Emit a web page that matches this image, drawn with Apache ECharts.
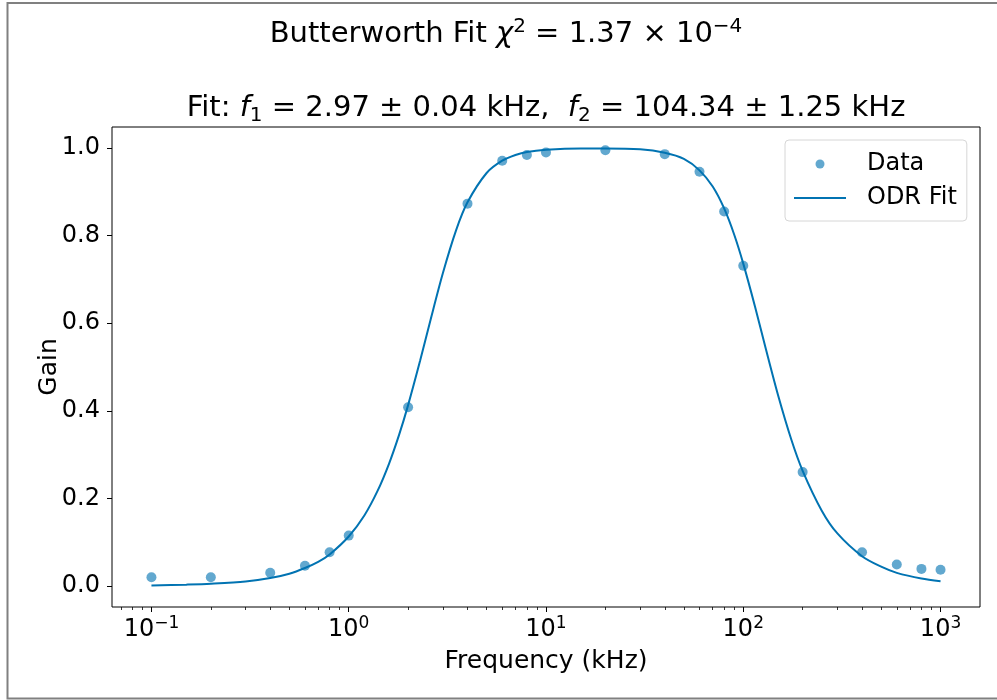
<!DOCTYPE html>
<html>
<head>
<meta charset="utf-8">
<script src="https://cdn.jsdelivr.net/npm/echarts@6/dist/echarts.min.js"></script>
<style>
  html, body { margin: 0; padding: 0; background: #fff; }
  #chart { width: 997px; height: 700px; }
</style>
</head>
<body>
<div id="chart"></div>
<script>
// measured points (kHz, gain)
const freqData = [0.1, 0.2, 0.4, 0.6, 0.8, 1, 2, 4, 6, 8, 10, 20, 40, 60, 80, 100, 200, 400, 600, 800, 1000];
const gainData = [0.020, 0.020, 0.030, 0.046, 0.077, 0.115, 0.408, 0.873, 0.971, 0.984, 0.990, 0.995, 0.986, 0.946, 0.855, 0.731, 0.260, 0.077, 0.049, 0.039, 0.037];

// fitted curve
const fitFreq = [0.1, 0.15, 0.2, 0.3, 0.4, 0.5, 0.6, 0.7, 0.8, 1, 1.2, 1.4, 1.6, 1.8, 2, 2.3, 2.6, 3, 3.5, 4, 5, 6, 7, 8, 10, 15, 20, 30, 40, 50, 60, 70, 80, 90, 100, 115, 130, 150, 175, 200, 250, 300, 400, 500, 600, 800, 1000];
const fitGain = [0.001, 0.003, 0.005, 0.010, 0.018, 0.028, 0.041, 0.055, 0.072, 0.113, 0.161, 0.217, 0.279, 0.345, 0.413, 0.514, 0.608, 0.714, 0.812, 0.876, 0.943, 0.971, 0.984, 0.991, 0.996, 0.999, 0.999, 0.997, 0.989, 0.975, 0.949, 0.912, 0.862, 0.802, 0.736, 0.636, 0.542, 0.436, 0.335, 0.263, 0.172, 0.120, 0.068, 0.044, 0.030, 0.017, 0.011];

const xMajorTicks = [0.1, 1, 10, 100, 1000];
const xMinorTicks = [0.07, 0.08, 0.09, 0.2, 0.3, 0.4, 0.5, 0.6, 0.7, 0.8, 0.9,
  2, 3, 4, 5, 6, 7, 8, 9, 20, 30, 40, 50, 60, 70, 80, 90, 200, 300, 400, 500, 600, 700, 800, 900];
const yTicks = [0, 0.2, 0.4, 0.6, 0.8, 1.0];

const font = 'DejaVu Sans';
const blue = '#0173b2';

const chart = echarts.init(document.getElementById('chart'));

const logAxisBase = {
  type: 'log',
  gridIndex: 0,
  min: 0.0631,
  max: 1585,
  position: 'bottom',
  splitLine: { show: false },
  axisLine: { show: false, onZero: false }
};

chart.setOption({
  backgroundColor: '#fff',
  animation: false,
  title: [{
    text: 'Butterworth Fit {i|χ}{sup|2} = 1.37 × 10{sup|−4}',
    left: 506,
    top: 17,
    padding: 0,
    textAlign: 'center',
    textStyle: {
      fontFamily: font, fontSize: 29, fontWeight: 'normal', color: '#000', lineHeight: 35,
      rich: {
        i: { fontFamily: font, fontSize: 29, fontStyle: 'italic', lineHeight: 35 },
        sup: { fontFamily: font, fontSize: 20, lineHeight: 20, verticalAlign: 'top' }
      }
    }
  }, {
    text: 'Fit: {i|f}{sub|1} = 2.97 ± 0.04 kHz,  {i|f}{sub|2} = 104.34 ± 1.25 kHz',
    left: 546,
    top: 91,
    padding: 0,
    textAlign: 'center',
    textStyle: {
      fontFamily: font, fontSize: 29, fontWeight: 'normal', color: '#000', lineHeight: 35,
      rich: {
        i: { fontFamily: font, fontSize: 29, fontStyle: 'italic', lineHeight: 35 },
        sub: { fontFamily: font, fontSize: 20, lineHeight: 18, verticalAlign: 'bottom' }
      }
    }
  }],
  graphic: [{
    type: 'rect',
    shape: { x: 7.5, y: 3, width: 1000, height: 695.5 },
    style: { fill: 'none', stroke: '#808080', lineWidth: 2 },
    silent: true
  }],
  legend: {
    orient: 'vertical',
    left: 785,
    top: 140,
    padding: [12, 10, 11, 8],
    itemWidth: 52,
    itemHeight: 9,
    itemGap: 10,
    backgroundColor: 'rgba(255,255,255,0.8)',
    borderColor: '#d6d6d6',
    borderWidth: 1,
    borderRadius: 4,
    textStyle: { fontFamily: font, fontSize: 24, color: '#000', padding: [0, 0, 0, 16] },
    data: ['Data', { name: 'ODR Fit', itemStyle: { opacity: 0 } }]
  },
  grid: {
    left: 112, right: 17, top: 127, bottom: 93,
    show: true, borderColor: '#000', borderWidth: 1
  },
  xAxis: [Object.assign({}, logAxisBase, {
    name: 'Frequency (kHz)',
    nameLocation: 'middle',
    nameGap: 42,
    nameMoveOverlap: false,
    nameTextStyle: { fontFamily: font, fontSize: 25, color: '#000' },
    axisTick: { show: true, length: 5, customValues: xMajorTicks, lineStyle: { color: '#000', width: 1 } },
    axisLabel: {
      customValues: xMajorTicks,
      margin: 8,
      color: '#000',
      formatter: function (v) {
        const e = Math.round(Math.log10(v));
        return '{b|10}{s|' + (e < 0 ? '\u2212' + (-e) : e) + '}';
      },
      rich: {
        b: { fontFamily: font, fontSize: 24, lineHeight: 30, color: '#000' },
        s: { fontFamily: font, fontSize: 17, lineHeight: 17, verticalAlign: 'top', color: '#000' }
      }
    }
  }), Object.assign({}, logAxisBase, {
    axisTick: { show: true, length: 3, customValues: xMinorTicks, lineStyle: { color: '#000', width: 0.8 } },
    axisLabel: { show: false }
  })],
  yAxis: {
    type: 'value',
    min: -0.048,
    max: 1.048,
    name: 'Gain',
    nameLocation: 'middle',
    nameGap: 50,
    nameMoveOverlap: false,
    nameTextStyle: { fontFamily: font, fontSize: 25, color: '#000' },
    splitLine: { show: false },
    axisLine: { show: false, onZero: false },
    axisTick: { show: true, length: 5, customValues: yTicks, lineStyle: { color: '#000', width: 1 } },
    axisLabel: {
      customValues: yTicks,
      margin: 12,
      fontFamily: font, fontSize: 24, color: '#000',
      formatter: v => v.toFixed(1)
    }
  },
  series: [{
    name: 'Data',
    type: 'scatter',
    xAxisIndex: 0,
    symbol: 'circle',
    symbolSize: 10,
    itemStyle: { color: blue, opacity: 0.62 },
    data: freqData.map((f, i) => [f, gainData[i]]),
    z: 2
  }, {
    name: 'ODR Fit',
    type: 'line',
    xAxisIndex: 0,
    symbol: 'none',
    smooth: 0.3,
    lineStyle: { color: blue, width: 2 },
    itemStyle: { color: blue },
    data: fitFreq.map((f, i) => [f, fitGain[i]]),
    z: 3
  }]
});

window.addEventListener('resize', function () {
  chart.resize();
});
</script>
</body>
</html>
